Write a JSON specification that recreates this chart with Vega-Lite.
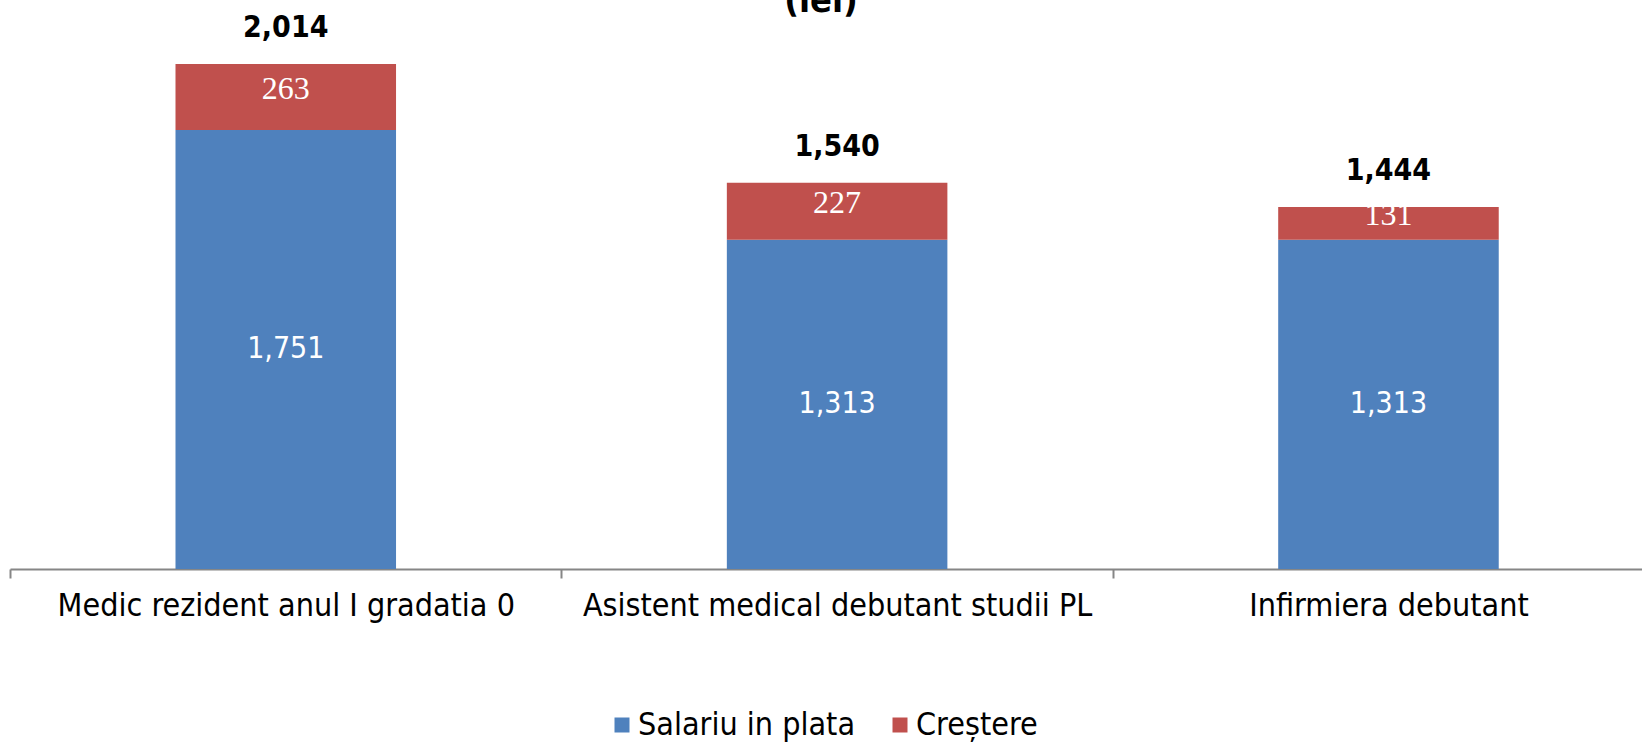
{
  "$schema": "https://vega.github.io/schema/vega-lite/v6.json",
  "autosize": {"type": "none"},
  "padding": {"left": 10, "top": 0, "right": 0, "bottom": 173},
  "width": 1632,
  "height": 569,
  "background": "white",
  "config": {"view": {"stroke": null}},
  "title": {
    "text": "(lei)",
    "font": "DejaVu Sans Condensed",
    "fontSize": 36,
    "fontWeight": "bold",
    "color": "black",
    "anchor": "middle",
    "baseline": "alphabetic",
    "offset": 0,
    "dy": 48,
    "dx": -5
  },
  "data": {
    "values": [
      {"category": "Medic rezident anul I gradatia 0", "series": "Salariu in plata", "value": 1751, "order": 1},
      {"category": "Medic rezident anul I gradatia 0", "series": "Creștere", "value": 263, "order": 2},
      {"category": "Asistent medical debutant studii PL", "series": "Salariu in plata", "value": 1313, "order": 1},
      {"category": "Asistent medical debutant studii PL", "series": "Creștere", "value": 227, "order": 2},
      {"category": "Infirmiera debutant", "series": "Salariu in plata", "value": 1313, "order": 1},
      {"category": "Infirmiera debutant", "series": "Creștere", "value": 131, "order": 2}
    ]
  },
  "encoding": {
    "x": {
      "field": "category",
      "type": "nominal",
      "sort": null,
      "scale": {"paddingInner": 0.6, "paddingOuter": 0.28, "align": 0.536},
      "axis": {
        "title": null,
        "labelAngle": 0,
        "labelFont": "DejaVu Sans Condensed",
        "labelFontSize": 32,
        "labelColor": "black",
        "labelLimit": 0,
        "labelPadding": 12,
        "labelOffset": 275.7,
        "domainColor": "#868686",
        "domainWidth": 2,
        "tickColor": "#868686",
        "tickWidth": 2,
        "tickSize": 9,
        "tickOffset": -275.7,
        "grid": false
      }
    }
  },
  "layer": [
    {
      "mark": {"type": "bar"},
      "encoding": {
        "y": {
          "field": "value",
          "type": "quantitative",
          "stack": "zero",
          "scale": {"domain": [0, 2269], "nice": false},
          "axis": null
        },
        "color": {
          "field": "series",
          "type": "nominal",
          "scale": {"domain": ["Salariu in plata", "Creștere"], "range": ["#4F81BD", "#C0504D"]},
          "legend": {
            "orient": "none",
            "direction": "horizontal",
            "legendX": 596,
            "legendY": 709,
            "title": null,
            "padding": 0,
            "symbolType": "square",
            "symbolSize": 225,
            "symbolStrokeWidth": 0,
            "labelFont": "DejaVu Sans Condensed",
            "labelFontSize": 32,
            "labelColor": "black",
            "labelLimit": 0,
            "labelOffset": 0,
            "columnPadding": 28
          }
        },
        "order": {"field": "order"}
      }
    },
    {
      "mark": {"type": "text", "color": "white", "font": "DejaVu Sans Condensed", "fontSize": 30, "baseline": "middle"},
      "encoding": {
        "y": {"field": "value", "type": "quantitative", "stack": "zero", "bandPosition": 0.5},
        "detail": {"field": "series"},
        "order": {"field": "order"},
        "text": {"condition": {"test": "datum.series === 'Salariu in plata'", "field": "value", "format": ","}, "value": ""}
      }
    },
    {
      "mark": {"type": "text", "color": "white", "font": "Liberation Serif", "fontSize": 32, "baseline": "middle", "dy": -8},
      "encoding": {
        "y": {"field": "value", "type": "quantitative", "stack": "zero", "bandPosition": 0.5},
        "detail": {"field": "series"},
        "order": {"field": "order"},
        "text": {"condition": {"test": "datum.series === 'Creștere'", "field": "value", "format": ","}, "value": ""}
      }
    },
    {
      "mark": {"type": "text", "color": "black", "font": "DejaVu Sans Condensed", "fontSize": 30, "fontWeight": "bold", "baseline": "middle", "dy": -36},
      "encoding": {
        "y": {"aggregate": "sum", "field": "value", "type": "quantitative"},
        "text": {"aggregate": "sum", "field": "value", "type": "quantitative", "format": ","}
      }
    }
  ]
}
